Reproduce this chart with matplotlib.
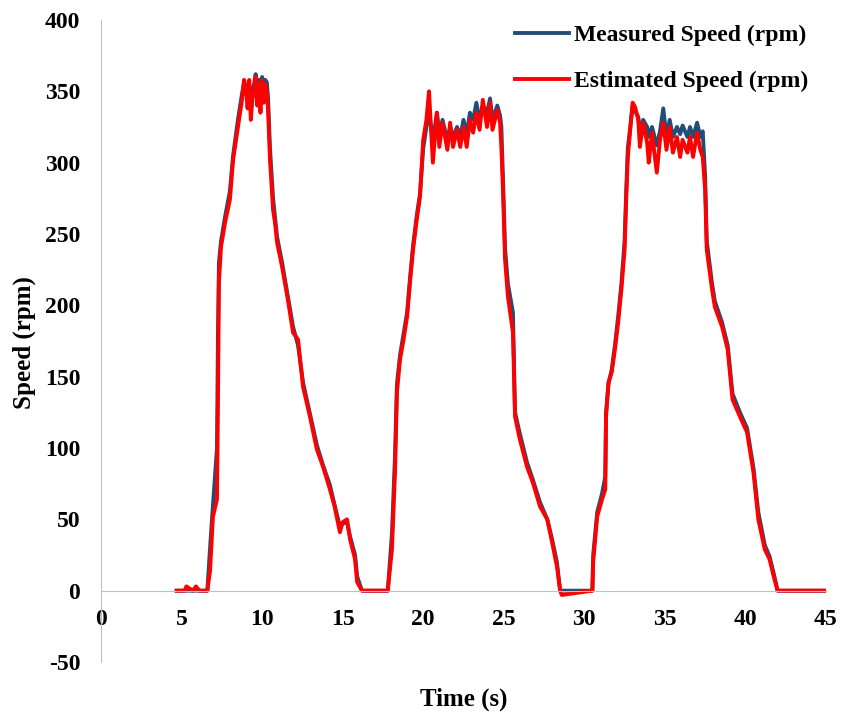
import matplotlib
matplotlib.use("Agg")
import matplotlib.pyplot as plt

# speed traces (time in s, speed in rpm)
time_s = [4.7, 5.2, 5.3, 5.7, 5.9, 6.1, 6.6,
          6.77, 6.95, 7.2, 7.26, 7.32, 7.45, 7.7, 8.0, 8.2, 8.5, 8.75, 8.88,
          9.0, 9.1, 9.2, 9.3, 9.4, 9.5, 9.6, 9.7, 9.8, 9.9, 10.0, 10.1, 10.2, 10.3,
          10.37, 10.49, 10.68, 10.8, 10.93, 11.24, 11.6, 11.92, 12.23, 12.54, 12.97,
          13.4, 13.78, 14.21, 14.5, 14.83, 15.0, 15.27, 15.46, 15.77, 15.9, 16.2,
          17.8,
          18.06, 18.25, 18.37, 18.56, 18.75, 19.0, 19.18, 19.37, 19.6, 19.8,
          20.0, 20.2, 20.36, 20.55, 20.6, 20.85, 21.0, 21.2, 21.5, 21.67, 21.85, 22.1, 22.3,
          22.5, 22.7, 22.9, 23.1, 23.3, 23.5, 23.7, 23.96, 24.15, 24.3, 24.6, 24.77, 24.85,
          24.95, 25.08, 25.26, 25.57, 25.7, 26.0, 26.44, 26.8, 27.25, 27.7, 28.0, 28.3, 28.5, 28.6,
          30.5,
          30.55, 30.8, 31.1, 31.3, 31.35, 31.5, 31.7, 31.9, 32.1, 32.3, 32.5, 32.6, 32.7,
          33.0, 33.15, 33.35, 33.45, 33.65, 33.9, 34.0, 34.2, 34.5, 34.7, 34.9, 35.1,
          35.3, 35.5, 35.75, 35.95, 36.1, 36.4, 36.56, 36.75, 37.0, 37.2, 37.35,
          37.5, 37.6, 37.93, 38.1, 38.55, 38.9, 39.2, 39.66, 40.1, 40.5, 40.8, 41.2, 41.5, 41.8, 42.0, 45.0]

measured = [0, 0, 0, 0, 0, 0, 0,
            30, 60, 100, 180, 230, 245, 262, 280, 305, 330, 348, 356,
            350, 345, 355, 340, 350, 355, 362, 350, 358, 345, 360, 355, 358, 356,
            345, 310, 275, 262, 248, 230, 206, 185, 172, 146, 124,
            102, 88, 74, 60, 45, 47, 48, 38, 25, 10, 0,
            0,
            40, 95, 145, 165, 178, 195, 219, 242, 263, 278,
            310, 325, 335, 320, 315, 335, 320, 330, 315, 325, 318, 325, 318,
            330, 320, 335, 330, 342, 330, 340, 335, 345, 330, 340, 333, 325,
            290, 240, 215, 195, 125, 110, 90, 78, 62, 50, 36, 20, 0, 0,
            0,
            25, 55, 68, 80, 125, 145, 155, 172, 192, 215, 245, 280, 310,
            340, 336, 332, 320, 330, 325, 318, 325, 312, 322, 338, 318,
            330, 318, 325, 320, 326, 318, 325, 318, 328, 318, 322,
            290, 245, 215, 203, 188, 172, 138, 125, 114, 86, 55, 32, 24, 10, 0, 0]

estimated = [0, 0, 3, 0, 3, 0, 0,
             14, 52, 64, 134, 216, 241, 258, 274, 302, 325, 344, 358,
             352, 338, 358, 330, 345, 350, 360, 340, 355, 335, 358, 342, 355, 350,
             337, 302, 267, 258, 244, 227, 204, 181, 176, 143, 122,
             99, 87, 71, 59, 41, 48, 50, 36, 22, 6, 0,
             0,
             29, 83, 139, 162, 174, 192, 216, 239, 260, 276,
             316, 330, 350, 311, 300, 335, 311, 328, 309, 328, 311, 323, 311,
             325, 311, 330, 321, 335, 323, 344, 325, 342, 323, 337, 328, 311,
             281, 232, 206, 181, 122, 106, 87, 76, 59, 50, 34, 17, 0, -3,
             0,
             20, 52, 64, 71, 122, 146, 153, 169, 188, 211, 239, 274, 304,
             342, 339, 330, 311, 328, 314, 300, 321, 293, 316, 328, 309,
             325, 307, 318, 304, 316, 307, 318, 304, 321, 309, 304,
             281, 239, 211, 199, 185, 169, 134, 122, 111, 83, 50, 29, 22, 8, 0, 0]

x_ticks = [0, 5, 10, 15, 20, 25, 30, 35, 40, 45]
y_ticks = [-50, 0, 50, 100, 150, 200, 250, 300, 350, 400]

plt.rcParams['font.family'] = ['Liberation Serif', 'DejaVu Serif']
plt.rcParams['font.weight'] = 'bold'
plt.rcParams['axes.unicode_minus'] = False

fig = plt.figure(figsize=(8.43, 7.13), dpi=100)
ax = fig.add_axes([0.1198, 0.0715, 0.86, 0.9005])

ax.plot(time_s, measured, color='#1F4E79', lw=2.8, label='Measured Speed (rpm)')
ax.plot(time_s, estimated, color='#FF0000', lw=2.8, label='Estimated Speed (rpm)')

ax.set_xlim(0, 45)
ax.set_ylim(-50, 400)
ax.set_xticks(x_ticks)
ax.set_yticks(y_ticks)

for side in ['top', 'right']:
    ax.spines[side].set_visible(False)
ax.spines['bottom'].set_position(('data', 0))
ax.spines['bottom'].set_color('#BFBFBF')
ax.spines['left'].set_color('#BFBFBF')
ax.tick_params(axis='both', length=0, labelsize=17)
ax.tick_params(axis='x', pad=13)
ax.tick_params(axis='y', pad=15)

ax.set_xlabel('Time (s)', fontsize=18, fontweight='bold')
ax.set_ylabel('Speed (rpm)', fontsize=18, fontweight='bold')
ax.xaxis.set_label_coords(0.5, -0.04)
ax.yaxis.set_label_coords(-0.09, 0.497)

ax.legend(loc='upper right', bbox_to_anchor=(0.9585, 0.966), bbox_transform=fig.transFigure,
          frameon=False, fontsize=17, handlelength=2.3, labelspacing=1.05,
          handletextpad=0.2, borderpad=0, borderaxespad=0)

fig.savefig('out.png', dpi=100)
